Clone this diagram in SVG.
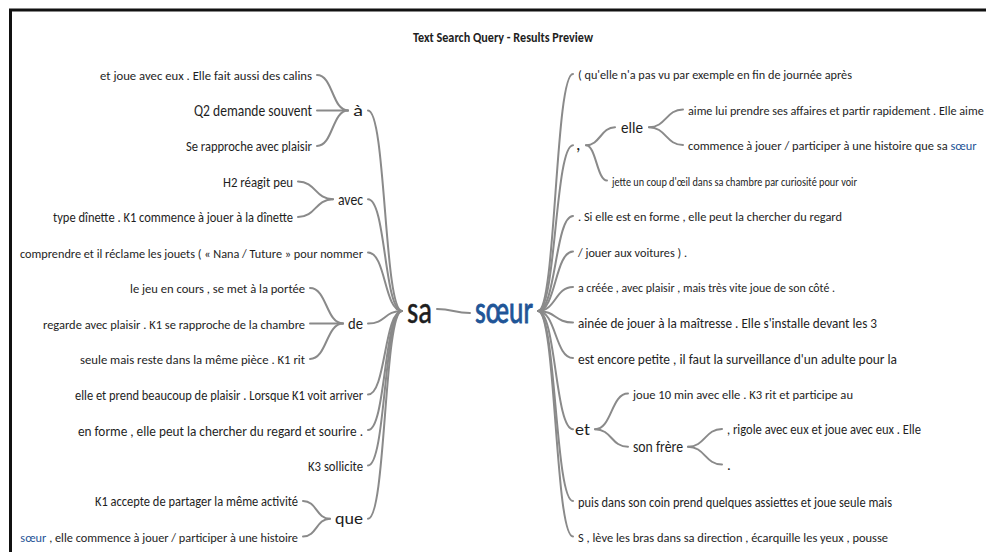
<svg xmlns="http://www.w3.org/2000/svg" width="986" height="552" viewBox="0 0 986 552">
<style>
.t{font-family:Carlito,"Liberation Sans Narrow",Lato,"Liberation Sans",sans-serif;fill:#1e1e1e}
.e{text-anchor:end}
.b{fill:#1f5597}
.c{fill:none;stroke:#8a8a8a;stroke-width:2;stroke-linecap:round}
</style>
<rect x="0" y="0" width="986" height="552" fill="#ffffff"/>
<path d="M10.5 552 V10 H986" fill="none" stroke="#111" stroke-width="3"/>
<g id="title"><text class="t" x="413" y="42" font-size="13" font-weight="bold" textLength="180" lengthAdjust="spacingAndGlyphs">Text Search Query - Results Preview</text></g>

<g id="connectors">
<path class="c" d="M317 75 C333 75 332 110.5 348 110.5"/>
<path class="c" d="M317 110.5 L348 110.5"/>
<path class="c" d="M317 146 C333 146 332 110.5 348 110.5"/>
<path class="c" d="M298 181.5 C316 181.5 315 199.25 333 199.25"/>
<path class="c" d="M298 217 C316 217 315 199.25 333 199.25"/>
<path class="c" d="M310 288 C327 288 326 323.5 343 323.5"/>
<path class="c" d="M310 323.5 L343 323.5"/>
<path class="c" d="M310 359 C327 359 326 323.5 343 323.5"/>
<path class="c" d="M303 501 C317 501 316 518.75 330 518.75"/>
<path class="c" d="M303 536.5 C317 536.5 316 518.75 330 518.75"/>
<path class="c" d="M368 110.5 C386 110.5 384 311 402 311"/>
<path class="c" d="M368 199.25 C386 199.25 384 311 402 311"/>
<path class="c" d="M368 252.5 C386 252.5 384 311 402 311"/>
<path class="c" d="M368 323.5 C386 323.5 384 311 402 311"/>
<path class="c" d="M368 394.5 C386 394.5 384 311 402 311"/>
<path class="c" d="M368 430 C386 430 384 311 402 311"/>
<path class="c" d="M368 465.5 C386 465.5 384 311 402 311"/>
<path class="c" d="M368 518.75 C386 518.75 384 311 402 311"/>
<path class="c" d="M437 309 C453 309 454 313 470 313"/>
<path class="c" d="M538 311 C556 311 555 74 573 74"/>
<path class="c" d="M538 311 C556 311 555 145.25 573 145.25"/>
<path class="c" d="M538 311 C556 311 555 216 573 216"/>
<path class="c" d="M538 311 C556 311 555 251.5 573 251.5"/>
<path class="c" d="M538 311 C556 311 555 287 573 287"/>
<path class="c" d="M538 311 C556 311 555 322.5 573 322.5"/>
<path class="c" d="M538 311 C556 311 555 358 573 358"/>
<path class="c" d="M538 311 C556 311 555 429.25 573 429.25"/>
<path class="c" d="M538 311 C556 311 555 501 573 501"/>
<path class="c" d="M538 311 C556 311 555 536.5 573 536.5"/>
<path class="c" d="M586 145.25 C600 145.25 601 127.25 615 127.25"/>
<path class="c" d="M586 145.25 C596 145.25 597 180.5 607 180.5"/>
<path class="c" d="M649 127.25 C666 127.25 666 109.5 683 109.5"/>
<path class="c" d="M649 127.25 C666 127.25 666 145 683 145"/>
<path class="c" d="M595 429.25 C612 429.25 611 393.5 628 393.5"/>
<path class="c" d="M595 429.25 C612 429.25 611 446.75 628 446.75"/>
<path class="c" d="M688 446.75 C705 446.75 705 429 722 429"/>
<path class="c" d="M688 446.75 C705 446.75 705 464.5 722 464.5"/>
</g>

<g id="n-sa"><text class="t" x="407" y="323" font-size="38" stroke="#1e1e1e" stroke-width="0.5" textLength="25" lengthAdjust="spacingAndGlyphs">sa</text></g>
<g id="n-soeur"><text class="t b" x="475" y="323" font-size="38" stroke="#1f5597" stroke-width="0.9" textLength="58" lengthAdjust="spacingAndGlyphs">sœur</text></g>

<g id="n-a"><text class="t e" x="363" y="116" font-size="16" textLength="10" lengthAdjust="spacingAndGlyphs">à</text></g>
<g id="n-avec"><text class="t e" x="363" y="204.5" font-size="16" textLength="25" lengthAdjust="spacingAndGlyphs">avec</text></g>
<g id="n-comprendre"><text class="t e" x="363" y="257.5" font-size="13" textLength="343" lengthAdjust="spacingAndGlyphs">comprendre et il réclame les jouets ( « Nana / Tuture » pour nommer</text></g>
<g id="n-de"><text class="t e" x="363" y="329" font-size="16" textLength="15" lengthAdjust="spacingAndGlyphs">de</text></g>
<g id="n-elle-prend"><text class="t e" x="363" y="400" font-size="13.5" textLength="288" lengthAdjust="spacingAndGlyphs">elle et prend beaucoup de plaisir . Lorsque K1 voit arriver</text></g>
<g id="n-en-forme"><text class="t e" x="363" y="435.5" font-size="14.5" textLength="285" lengthAdjust="spacingAndGlyphs">en forme , elle peut la chercher du regard et sourire .</text></g>
<g id="n-k3"><text class="t e" x="363" y="471" font-size="14.5" textLength="55" lengthAdjust="spacingAndGlyphs">K3 sollicite</text></g>
<g id="n-que"><text class="t e" x="363" y="524" font-size="16" textLength="28" lengthAdjust="spacingAndGlyphs">que</text></g>

<g id="n-l1"><text class="t e" x="312" y="80" font-size="13" textLength="212" lengthAdjust="spacingAndGlyphs">et joue avec eux . Elle fait aussi des calins</text></g>
<g id="n-l2"><text class="t e" x="312" y="116" font-size="16" textLength="118" lengthAdjust="spacingAndGlyphs">Q2 demande souvent</text></g>
<g id="n-l3"><text class="t e" x="312" y="151" font-size="13.5" textLength="126" lengthAdjust="spacingAndGlyphs">Se rapproche avec plaisir</text></g>
<g id="n-l4"><text class="t e" x="293" y="187" font-size="14" textLength="70" lengthAdjust="spacingAndGlyphs">H2 réagit peu</text></g>
<g id="n-l5"><text class="t e" x="293" y="222" font-size="13.5" textLength="240" lengthAdjust="spacingAndGlyphs">type dînette . K1 commence à jouer à la dînette</text></g>
<g id="n-l6"><text class="t e" x="305" y="293" font-size="13" textLength="175" lengthAdjust="spacingAndGlyphs">le jeu en cours , se met à la portée</text></g>
<g id="n-l7"><text class="t e" x="305" y="328.5" font-size="13" textLength="262" lengthAdjust="spacingAndGlyphs">regarde avec plaisir . K1 se rapproche de la chambre</text></g>
<g id="n-l8"><text class="t e" x="305" y="364" font-size="13" textLength="225" lengthAdjust="spacingAndGlyphs">seule mais reste dans la même pièce . K1 rit</text></g>
<g id="n-l9"><text class="t e" x="298" y="506" font-size="14" textLength="203" lengthAdjust="spacingAndGlyphs">K1 accepte de partager la même activité</text></g>
<g id="n-l10"><text class="t e" x="298" y="541.5" font-size="12.3"><tspan class="b">sœur</tspan> , elle commence à jouer / participer à une histoire</text></g>

<g id="n-r1"><text class="t" x="578" y="79" font-size="13" textLength="274" lengthAdjust="spacingAndGlyphs">( qu'elle n'a pas vu par exemple en fin de journée après</text></g>
<g id="n-comma"><text class="t" x="576" y="150" font-size="18">,</text></g>
<g id="n-r3"><text class="t" x="578" y="221" font-size="13" textLength="264" lengthAdjust="spacingAndGlyphs">. Si elle est en forme , elle peut la chercher du regard</text></g>
<g id="n-r4"><text class="t" x="578" y="256.5" font-size="13" textLength="109" lengthAdjust="spacingAndGlyphs">/ jouer aux voitures ) .</text></g>
<g id="n-r5"><text class="t" x="578" y="292" font-size="13" textLength="257" lengthAdjust="spacingAndGlyphs">a créée , avec plaisir , mais très vite joue de son côté .</text></g>
<g id="n-r6"><text class="t" x="578" y="328" font-size="14" textLength="299" lengthAdjust="spacingAndGlyphs">ainée de jouer à la maîtresse . Elle s'installe devant les 3</text></g>
<g id="n-r7"><text class="t" x="578" y="363.5" font-size="14" textLength="319" lengthAdjust="spacingAndGlyphs">est encore petite , il faut la surveillance d'un adulte pour la</text></g>
<g id="n-et"><text class="t" x="575" y="435" font-size="17" textLength="15" lengthAdjust="spacingAndGlyphs">et</text></g>
<g id="n-r9"><text class="t" x="578" y="506.5" font-size="14" textLength="314" lengthAdjust="spacingAndGlyphs">puis dans son coin prend quelques assiettes et joue seule mais</text></g>
<g id="n-r10"><text class="t" x="578" y="541.5" font-size="13" textLength="310" lengthAdjust="spacingAndGlyphs">S , lève les bras dans sa direction , écarquille les yeux , pousse</text></g>

<g id="n-elle"><text class="t" x="621" y="133" font-size="17" textLength="22" lengthAdjust="spacingAndGlyphs">elle</text></g>
<g id="n-jette"><text class="t" x="612" y="185.5" font-size="13" textLength="245" lengthAdjust="spacingAndGlyphs">jette un coup d'œil dans sa chambre par curiosité pour voir</text></g>
<g id="n-aime"><text class="t" x="688" y="114.5" font-size="12.2">aime lui prendre ses affaires et partir rapidement . Elle aime</text></g>
<g id="n-commence"><text class="t" x="688" y="150" font-size="12.4">commence à jouer / participer à une histoire que sa <tspan class="b">sœur</tspan></text></g>
<g id="n-joue10"><text class="t" x="633" y="398.5" font-size="13" textLength="220" lengthAdjust="spacingAndGlyphs">joue 10 min avec elle . K3 rit et participe au</text></g>
<g id="n-sonfrere"><text class="t" x="633" y="452" font-size="16" textLength="50" lengthAdjust="spacingAndGlyphs">son frère</text></g>
<g id="n-rigole"><text class="t" x="727" y="434" font-size="13.5" textLength="194" lengthAdjust="spacingAndGlyphs">, rigole avec eux et joue avec eux . Elle</text></g>
<g id="n-dot"><text class="t" x="727" y="469.5" font-size="15">.</text></g>
</svg>
